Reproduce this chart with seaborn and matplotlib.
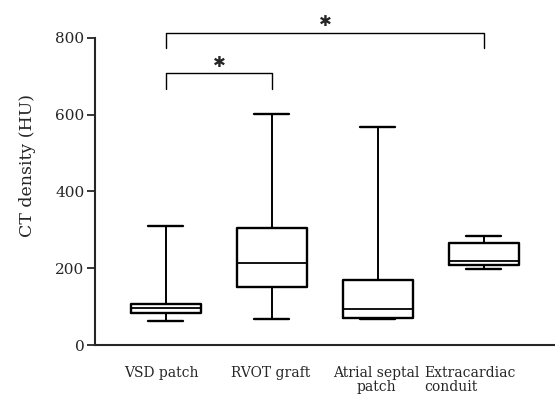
import numpy as np
import pandas as pd
import matplotlib
matplotlib.use("Agg")
import matplotlib.pyplot as plt
import matplotlib.transforms as mtransforms
import seaborn as sns

# Data: five-number summaries (min, Q1, median, Q3, max)
categories = ["VSD patch", "RVOT graft", "Atrial septal\npatch", "Extracardiac\nconduit"]
vsd = [64, 83, 96, 108, 310]
rvot = [69, 151, 214, 305, 602]
atrial = [67, 70, 93, 169, 568]
extra = [198, 208, 219, 267, 285]
yticks = [0, 200, 400, 600, 800]
ylabel = "CT density (HU)"

df = pd.DataFrame({
    "group": np.repeat(categories, 5),
    "value": vsd + rvot + atrial + extra,
})

sns.set_style("ticks")
plt.rcParams["font.family"] = ["DejaVu Serif"]

fig = plt.figure(figsize=(5.55, 3.94), dpi=100)
ax = fig.add_axes([0.171, 0.124, 0.829, 0.78])

sns.boxplot(data=df, x="group", y="value", order=categories, whis=(0, 100),
            width=0.66, fill=False, color="black", linewidth=1.7,
            showfliers=False, ax=ax,
            medianprops=dict(linewidth=1.3),
            whiskerprops=dict(linewidth=1.4),
            capprops=dict(linewidth=1.7))

ax.set_xlim(-0.67, 3.67)
ax.set_ylim(0, 800)
ax.set_yticks(yticks)
ax.set_xlabel("")
ax.set_ylabel(ylabel, fontsize=12.5)
ax.yaxis.set_label_coords(-0.128, 0.583)
ax.tick_params(axis="y", labelsize=11, length=6, width=1.3, direction="out", pad=1.5)
ax.tick_params(axis="x", length=0, labelsize=10, pad=15)
shifts = [-5, -1, -2, -14]
for lab, dx in zip(ax.get_xticklabels(), shifts):
    lab.set_linespacing(1.0)
    lab.set_transform(lab.get_transform() +
                      mtransforms.ScaledTranslation(dx / 100, 0, fig.dpi_scale_trans))
ax.get_xticklabels()[3].set_multialignment("left")
sns.despine(ax=ax)
for s in ["left", "bottom"]:
    ax.spines[s].set_linewidth(1.5)

# significance brackets
def bracket(x1, x2, ytop, ybot, ystar):
    ax.plot([x1, x1, x2, x2], [ybot, ytop, ytop, ybot], color="black",
            linewidth=1.0, clip_on=False)
    ax.text((x1 + x2) / 2, ystar, "\u2731", ha="center", va="center",
            fontsize=11, family="DejaVu Sans", clip_on=False)

bracket(0, 1, 709, 667, 736)
bracket(0, 3, 813, 774, 842)

fig.savefig("out.png", dpi=100)
